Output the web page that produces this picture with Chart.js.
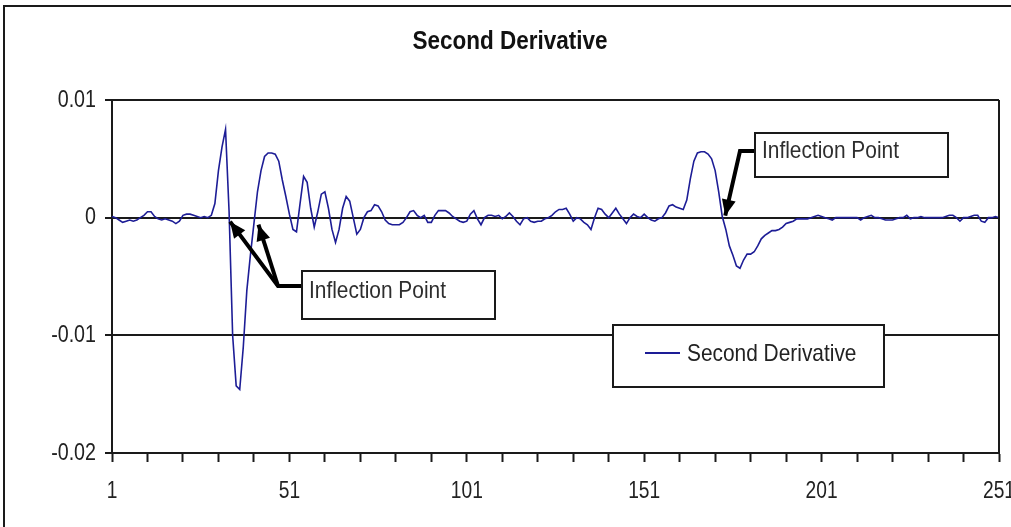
<!DOCTYPE html>
<html>
<head>
<meta charset="utf-8">
<script src="https://cdn.jsdelivr.net/npm/chart.js@4.4.0/dist/chart.umd.min.js"></script>
<style>
  html, body { margin: 0; padding: 0; background: #fff; }
  #wrap { width: 1011px; height: 527px; }
</style>
</head>
<body>
<div id="wrap"><canvas id="chart" width="1011" height="527"></canvas></div>
<script>
// --- DATA ---
const chartTitle = 'Second Derivative';
const seriesName = 'Second Derivative';
const noteText = 'Inflection Point';
const yTickValues = [0.01, 0, -0.01, -0.02];
const xLabelEvery = 50;   // categories between numbered labels
const xTickEvery = 10;    // categories between tick marks
const inflectionAt = [34, 42, 173];  // sample numbers the arrows point at

// samples 1..251
const secondDerivative = [
  0.0001, 0.0000, -0.0002, -0.0004, -0.0003, -0.0002, -0.0003, -0.0002, 0.0000, 0.0002,
  0.0005, 0.0005, 0.0001, -0.0001, -0.0002, -0.0001, -0.0002, -0.0003, -0.0005, -0.0003,
  0.0002, 0.0003, 0.0003, 0.0002, 0.0001, 0.0000, 0.0001, 0.0000, 0.0002, 0.0012,
  0.0040, 0.0060, 0.0075, 0.0005, -0.0100, -0.0143, -0.0146, -0.0110, -0.0062, -0.0032,
  -0.0005, 0.0022, 0.0040, 0.0052, 0.0055, 0.0055, 0.0054, 0.0048, 0.0032, 0.0018,
  0.0003, -0.0010, -0.0012, 0.0012, 0.0035, 0.0030, 0.0008, -0.0008, 0.0005, 0.0020,
  0.0022, 0.0008, -0.0010, -0.0021, -0.0010, 0.0008, 0.0018, 0.0014, 0.0000, -0.0014,
  -0.0010, 0.0000, 0.0005, 0.0006, 0.0011, 0.0010, 0.0005, -0.0002, -0.0005, -0.0006,
  -0.0006, -0.0006, -0.0004, 0.0000, 0.0005, 0.0006, 0.0002, 0.0000, 0.0002, -0.0004,
  -0.0004, 0.0002, 0.0006, 0.0006, 0.0006, 0.0004, 0.0001, -0.0001, -0.0003, -0.0004,
  -0.0003, 0.0003, 0.0006, -0.0001, -0.0006, 0.0000, 0.0002, 0.0002, 0.0001, 0.0002,
  -0.0001, 0.0001, 0.0004, 0.0001, -0.0003, -0.0006, -0.0001, 0.0000, -0.0003, -0.0004,
  -0.0003, -0.0003, -0.0001, 0.0000, 0.0002, 0.0005, 0.0007, 0.0007, 0.0008, 0.0003,
  -0.0003, 0.0000, -0.0001, -0.0004, -0.0006, -0.0010, 0.0000, 0.0008, 0.0007, 0.0003,
  0.0000, 0.0004, 0.0008, 0.0003, -0.0001, -0.0005, 0.0000, 0.0003, 0.0001, 0.0000,
  0.0003, 0.0000, -0.0002, -0.0003, -0.0001, 0.0000, 0.0004, 0.0010, 0.0011, 0.0009,
  0.0008, 0.0007, 0.0015, 0.0033, 0.0048, 0.0055, 0.0056, 0.0056, 0.0054, 0.0050,
  0.0040, 0.0022, 0.0001, -0.0010, -0.0024, -0.0032, -0.0041, -0.0043, -0.0036, -0.0031,
  -0.0031, -0.0029, -0.0024, -0.0018, -0.0015, -0.0013, -0.0011, -0.0011, -0.0010, -0.0008,
  -0.0005, -0.0004, -0.0003, -0.0001, -0.0001, -0.0001, -0.0001, 0.0000, 0.0001, 0.0002,
  0.0001, 0.0000, -0.0001, -0.0002, 0.0000, 0.0000, 0.0000, 0.0000, 0.0000, 0.0000,
  0.0000, -0.0002, 0.0000, 0.0001, 0.0002, 0.0000, 0.0000, -0.0001, -0.0002, -0.0002,
  -0.0002, -0.0001, 0.0000, 0.0000, 0.0002, -0.0001, 0.0000, 0.0000, 0.0001, 0.0000,
  0.0000, 0.0000, 0.0000, 0.0000, 0.0000, 0.0001, 0.0002, 0.0002, 0.0000, -0.0003,
  0.0000, 0.0000, 0.0001, 0.0002, 0.0002, -0.0003, -0.0004, 0.0000, 0.0000, 0.0001,
  0.0000
];
const sampleIndex = [];
for (let i = 1; i <= secondDerivative.length; i++) sampleIndex.push(String(i));

// --- STYLE ---
const FONT = "'Liberation Sans', Arial, sans-serif";
const LINE_COLOR = '#1d1d96';
const INK = '#1a1a1a';
const TEXT = '#222';

// the source picture has narrow lettering, so text is squeezed sideways
function squeezed(ctx, text, x, y, size, sx, align, bold) {
  ctx.save();
  ctx.font = (bold ? 'bold ' : '') + size + 'px ' + FONT;
  ctx.textAlign = align;
  ctx.textBaseline = 'middle';
  ctx.translate(x, y);
  ctx.scale(sx, 1);
  ctx.fillText(text, 0, 0);
  ctx.restore();
}

function arrowTo(ctx, pts) {
  ctx.beginPath();
  ctx.moveTo(pts[0][0], pts[0][1]);
  for (let i = 1; i < pts.length; i++) ctx.lineTo(pts[i][0], pts[i][1]);
  ctx.stroke();
  const [tx, ty] = pts[pts.length - 1];
  const [px, py] = pts[pts.length - 2];
  const a = Math.atan2(ty - py, tx - px);
  const len = 16, half = 7;
  ctx.beginPath();
  ctx.moveTo(tx, ty);
  ctx.lineTo(tx - len * Math.cos(a) + half * Math.sin(a), ty - len * Math.sin(a) - half * Math.cos(a));
  ctx.lineTo(tx - len * Math.cos(a) - half * Math.sin(a), ty - len * Math.sin(a) + half * Math.cos(a));
  ctx.closePath();
  ctx.fill();
}

function noteBox(ctx, x, y, w, h, text) {
  ctx.fillStyle = '#fff';
  ctx.fillRect(x, y, w, h);
  ctx.lineWidth = 2;
  ctx.strokeStyle = INK;
  ctx.strokeRect(x, y, w, h);
  ctx.fillStyle = '#2e2e2e';
  squeezed(ctx, text, x + 7, y + h / 2 - 4, 24, 0.87, 'left');
}

const extras = {
  id: 'extras',
  beforeDraw(chart) {
    const ctx = chart.ctx;
    ctx.save();
    ctx.fillStyle = '#fff';
    ctx.fillRect(0, 0, chart.width, chart.height);
    ctx.restore();
  },
  afterDraw(chart) {
    const ctx = chart.ctx;
    const area = chart.chartArea;
    const xs = chart.scales.x, ys = chart.scales.y;
    const y0 = ys.getPixelForValue(0);
    ctx.save();

    // outer frame and plot border
    ctx.strokeStyle = INK;
    ctx.lineWidth = 2;
    ctx.strokeRect(4, 6, 1100, 600);
    ctx.beginPath();
    ctx.moveTo(area.right, area.top);
    ctx.lineTo(area.right, area.bottom);
    ctx.stroke();

    // tick labels
    ctx.fillStyle = TEXT;
    yTickValues.forEach(v => squeezed(ctx, String(v), 96, ys.getPixelForValue(v), 24, 0.82, 'right'));
    sampleIndex.forEach((lab, i) => {
      if (i % xLabelEvery === 0) squeezed(ctx, lab, xs.getPixelForValue(i), 491, 24, 0.8, 'center');
    });

    // title
    ctx.fillStyle = '#111';
    squeezed(ctx, chartTitle, 510, 42, 25, 0.9, 'center', true);

    // inflection notes
    ctx.fillStyle = '#000';
    ctx.strokeStyle = '#000';
    ctx.lineWidth = 4;
    ctx.lineJoin = 'miter';
    const t1 = [xs.getPixelForValue(inflectionAt[0] - 1) + 1, y0 + 4];
    const t2 = [xs.getPixelForValue(inflectionAt[1] - 1) + 1, y0 + 7];
    const t3 = [xs.getPixelForValue(inflectionAt[2] - 1) + 3, y0 - 2];
    arrowTo(ctx, [[302, 286], [278, 286], t1]);
    arrowTo(ctx, [[278, 286], t2]);
    arrowTo(ctx, [[755, 151], [740, 151], t3]);
    noteBox(ctx, 302, 271, 193, 48, noteText);
    noteBox(ctx, 755, 133, 193, 44, noteText);

    // legend
    ctx.fillStyle = '#fff';
    ctx.fillRect(613, 325, 271, 62);
    ctx.lineWidth = 2;
    ctx.strokeStyle = INK;
    ctx.strokeRect(613, 325, 271, 62);
    ctx.strokeStyle = LINE_COLOR;
    ctx.lineWidth = 2;
    ctx.beginPath();
    ctx.moveTo(645, 353);
    ctx.lineTo(680, 353);
    ctx.stroke();
    ctx.fillStyle = TEXT;
    squeezed(ctx, chart.data.datasets[0].label, 687, 354, 24, 0.87, 'left');
    ctx.restore();
  }
};

// --- CHART ---
const ctx = document.getElementById('chart').getContext('2d');
new Chart(ctx, {
  type: 'line',
  data: {
    labels: sampleIndex,
    datasets: [{
      label: seriesName,
      data: secondDerivative,
      borderColor: LINE_COLOR,
      borderWidth: 1.6,
      pointRadius: 0,
      tension: 0,
      fill: false
    }]
  },
  options: {
    responsive: false,
    animation: false,
    layout: { padding: { top: 100, right: 12, left: 0, bottom: 0 } },
    plugins: {
      legend: { display: false },
      title: { display: false },
      tooltip: { enabled: false }
    },
    scales: {
      x: {
        type: 'category',
        offset: false,
        grid: {
          drawOnChartArea: false,
          tickLength: 9,
          tickWidth: 2,
          tickColor: c => (c.index % xTickEvery === 0 ? INK : 'rgba(0,0,0,0)')
        },
        border: { color: INK, width: 2 },
        ticks: { display: false, autoSkip: false },
        afterFit: s => { s.height = 74; s.paddingLeft = 0; s.paddingRight = 0; }
      },
      y: {
        min: -0.02,
        max: 0.01,
        afterBuildTicks: s => { s.ticks = yTickValues.map(v => ({ value: v })); },
        grid: { color: INK, lineWidth: 2, tickLength: 7 },
        border: { color: INK, width: 2 },
        ticks: { display: false },
        afterFit: s => { s.width = 112; }
      }
    }
  },
  plugins: [extras]
});
</script>
</body>
</html>
